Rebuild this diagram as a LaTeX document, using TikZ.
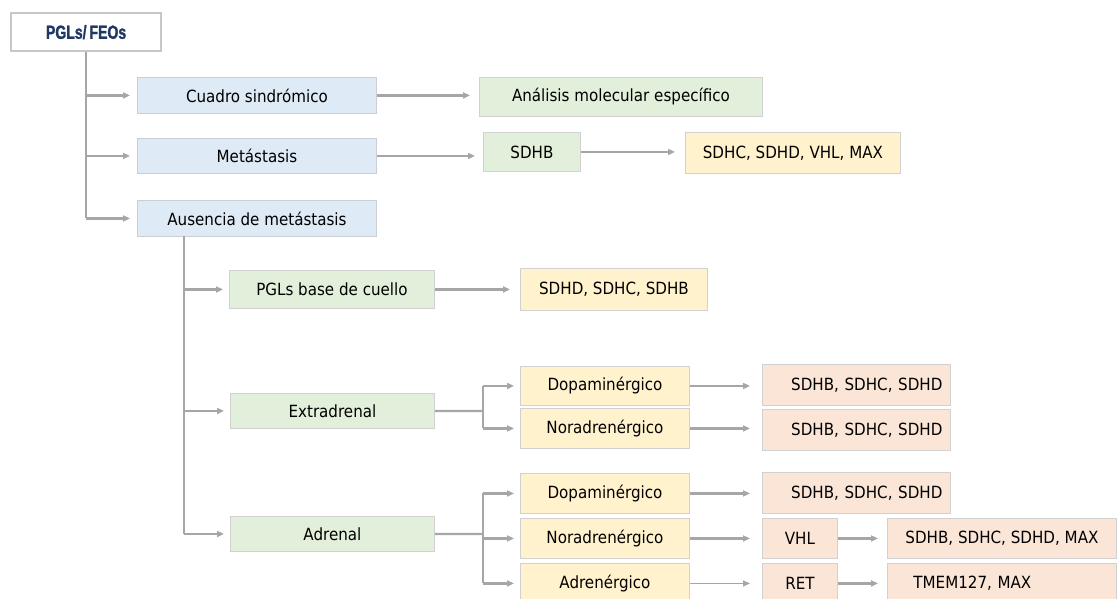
\documentclass[tikz,border=0pt]{standalone}
\usepackage{fontspec}
\setmainfont{DejaVu Sans}[FakeStretch=0.9]
\newfontfamily\titlefont{Liberation Sans Bold}[FakeStretch=0.74, FakeBold=1.4]
\usetikzlibrary{arrows.meta,calc}
\definecolor{lgray}{HTML}{A6A6A6}
\definecolor{blu}{HTML}{DEEAF6}
\definecolor{grn}{HTML}{E2EFDA}
\definecolor{yel}{HTML}{FFF2CC}
\definecolor{pch}{HTML}{FBE5D6}
\definecolor{navy}{HTML}{1F3864}
\tikzset{
  box/.style={draw=black!18, line width=0.9pt, inner sep=0pt, anchor=north west, text=black},
  bl/.style={box, fill=blu, draw=blu!75!black!60},
  gr/.style={box, fill=grn},
  ye/.style={box, fill=yel},
  pe/.style={box, fill=pch},
  ln/.style={draw=lgray, line width=2.2pt},
  arr/.style={ln, -{Triangle[length=7pt,width=6pt]}, shorten >=8pt},
}
\begin{document}
\begin{tikzpicture}[x=1pt,y=-1pt,font=\fontsize{16.8}{19}\selectfont]
\useasboundingbox (0,0) rectangle (1117,598);

% root
\node[box, draw=black!22, line width=2.2pt, fill=white, minimum width=150, minimum height=38]
  (root) at (10,12) {\titlefont\fontsize{19}{19}\selectfont\color{navy}PGLs/\kern-1pt\ FEOs};

% first level
\node[bl, minimum width=239, minimum height=36] (cuad) at (137,77) {Cuadro sindrómico};
\node[bl, minimum width=239, minimum height=35] (meta) at (137,138) {Metástasis};
\node[bl, minimum width=239, minimum height=36] (aus)  at (137,200) {Ausencia de metástasis};

\node[gr, minimum width=283, minimum height=39] (anal) at (479,77) {Análisis molecular específico};
\node[gr, minimum width=97,  minimum height=39] (sdhb) at (483,132) {SDHB};
\node[ye, minimum width=215, minimum height=41] (sdhc) at (685,132) {SDHC, SDHD, VHL, MAX};

% absence of metastasis
\node[gr, minimum width=205, minimum height=38] (pglb)  at (229,270) {PGLs base de cuello};
\node[ye, minimum width=187, minimum height=42] (sdhd)  at (520,268) {SDHD, SDHC, SDHB};
\node[gr, minimum width=204, minimum height=35] (extra) at (230,393) {Extradrenal};
\node[gr, minimum width=204, minimum height=35] (adre)  at (230,516) {Adrenal};

\node[ye, minimum width=169, minimum height=39] (dopa1) at (520,366) {Dopaminérgico};
\node[ye, minimum width=169, minimum height=40] (nora1) at (520,408) {Noradrenérgico};
\node[ye, minimum width=169, minimum height=40] (dopa2) at (520,473) {Dopaminérgico};
\node[ye, minimum width=169, minimum height=40] (nora2) at (520,518) {Noradrenérgico};
\node[ye, minimum width=169, minimum height=40] (adren) at (520,563) {Adrenérgico};

\node[pe, minimum width=188, minimum height=41, inner xsep=8, text width=172, align=right] (pe1) at (762,364) {SDHB, SDHC, SDHD};
\node[pe, minimum width=188, minimum height=41, inner xsep=8, text width=172, align=right] (pe2) at (762,409) {SDHB, SDHC, SDHD};
\node[pe, minimum width=188, minimum height=41, inner xsep=8, text width=172, align=right] (pe3) at (762,472) {SDHB, SDHC, SDHD};
\node[pe, minimum width=75, minimum height=40] (vhl) at (762,518) {VHL};
\node[pe, minimum width=75, minimum height=40] (ret) at (762,563) {RET};
\node[pe, minimum width=229, minimum height=40] (pe4) at (887,518) {SDHB, SDHC, SDHD, MAX};
\node[pe, minimum width=229, minimum height=40, inner xsep=26, text width=177, align=left] (pe5) at (887,563) {TMEM127, MAX};

% main trunk
\draw[ln] (root.south) -- (root.south |- aus.west);
\foreach \t in {cuad,meta,aus}
  \draw[arr, shorten >=7pt] (root.south |- \t.west) -- (\t.west);

\draw[arr, shorten >=9pt] (cuad.east) -- (cuad.east -| anal.west);
\draw[arr] (meta.east) -- (meta.east -| sdhb.west);
\draw[arr, shorten >=10pt] (sdhb.east) -- (sdhb.east -| sdhc.west);

% second trunk
\coordinate (t2) at (184,236);
\draw[ln] (t2) -- (t2 |- adre.west);
\foreach \t in {pglb,extra,adre}
  \draw[arr, shorten >=6pt] (t2 |- \t.west) -- (\t.west);
\draw[arr, shorten >=10pt] (pglb.east) -- (pglb.east -| sdhd.west);

% extradrenal fork
\coordinate (f1) at (483,411);
\draw[ln] (extra.east) -- (f1);
\draw[ln] (f1 |- dopa1.west) -- (f1 |- nora1.west);
\foreach \t in {dopa1,nora1}
  \draw[arr, shorten >=6pt] (f1 |- \t.west) -- (\t.west);
\draw[arr, shorten >=12pt] (dopa1.east) -- (dopa1.east -| pe1.west);
\draw[arr, shorten >=12pt] (nora1.east) -- (nora1.east -| pe2.west);

% adrenal fork
\coordinate (f2) at (483,534);
\draw[ln] (adre.east) -- (f2);
\draw[ln] (f2 |- dopa2.west) -- (f2 |- adren.west);
\foreach \t in {dopa2,nora2,adren}
  \draw[arr, shorten >=6pt] (f2 |- \t.west) -- (\t.west);
\draw[arr, shorten >=12pt] (dopa2.east) -- (dopa2.east -| pe3.west);
\draw[arr, shorten >=12pt] (nora2.east) -- (nora2.east -| vhl.west);
\draw[arr, line width=1.3pt, shorten >=12pt] (adren.east) -- (adren.east -| ret.west);
\draw[arr, shorten >=9pt] (vhl.east) -- (vhl.east -| pe4.west);
\draw[arr, shorten >=9pt] (ret.east) -- (ret.east -| pe5.west);
\end{tikzpicture}
\end{document}
